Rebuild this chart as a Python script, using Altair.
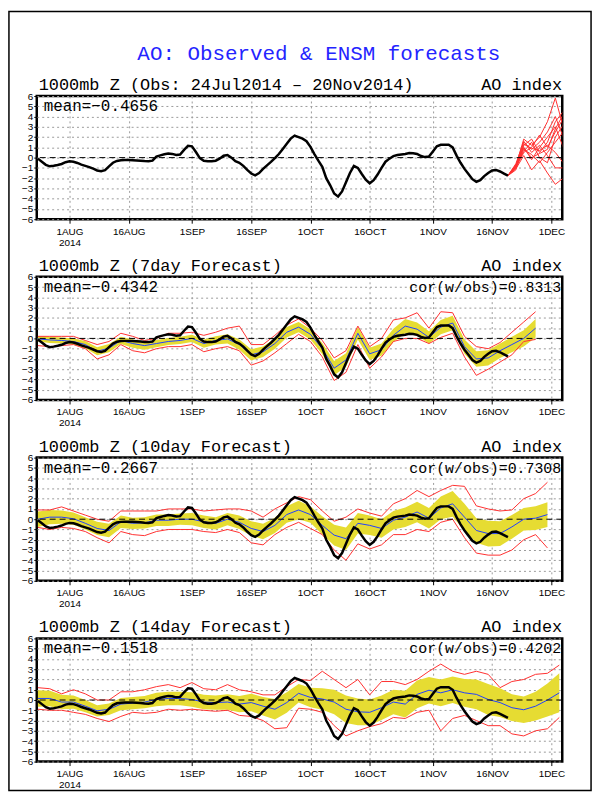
import altair as alt
import pandas as pd

# ---------------- data ----------------
# observed AO index, daily from 24 Jul 2014 to 20 Nov 2014
obs_values = [
    -0.10, -0.40, -0.70, -0.85, -0.80, -0.72, -0.62, -0.45,            # Jul 24-31
    -0.36, -0.40, -0.52, -0.68, -0.80, -0.92, -1.08, -1.25, -1.32, -1.22,
    -0.85, -0.50, -0.32, -0.26, -0.24, -0.24, -0.25, -0.27, -0.30, -0.34,
    -0.36, -0.30, 0.10, 0.22, 0.32, 0.40, 0.36, 0.26, 0.30, 0.75, 1.15,  # Aug
    1.10, 0.55, -0.05, -0.30, -0.36, -0.36, -0.30, -0.10, 0.18, 0.25,
    0.00, -0.35, -0.50, -0.80, -1.20, -1.55, -1.72, -1.50, -1.10, -0.75,
    -0.42, -0.05, 0.35, 0.85, 1.35, 1.85, 2.15, 2.00, 1.85, 1.60,        # Sep
    1.05, 0.35, -0.30, -0.90, -2.00, -2.70, -3.50, -3.80, -3.30, -2.40,
    -1.50, -0.80, -1.00, -1.60, -2.15, -2.50, -2.20, -1.65, -1.00, -0.40,
    -0.10, 0.15, 0.25, 0.30, 0.35, 0.45, 0.42, 0.35, 0.15, 0.05, 0.10,   # Oct
    0.60, 1.10, 1.25, 1.25, 1.25, 1.00, 0.20, -0.50, -1.10, -1.60,
    -2.10, -2.35, -2.20, -1.80, -1.50, -1.25, -1.20, -1.35, -1.55, -1.75,  # Nov 1-20
]

# ensemble forecast members of the top panel (every 2 days from 20 Nov)
member_dates = ["2014-11-20", "2014-11-22", "2014-11-24", "2014-11-26",
                "2014-11-28", "2014-11-30", "2014-12-02", "2014-12-04"]
members = {
    "m1": [-1.75, -0.8, 1.8, 1.2, 2.0, 3.5, 5.8, 3.0],
    "m2": [-1.75, -0.6, 1.5, 0.8, 1.5, 2.5, 4.0, 2.0],
    "m3": [-1.75, -0.9, 1.2, 1.8, 0.5, 1.5, 3.5, 4.5],
    "m4": [-1.75, -1.0, 0.5, 1.0, 2.2, 1.0, 2.5, 3.8],
    "m5": [-1.75, -0.7, 1.0, -0.2, 1.0, 2.0, 3.0, 1.0],
    "m6": [-1.75, -1.1, 0.2, -1.2, -0.3, -1.5, -2.6, -2.0],
    "m7": [-1.75, -0.9, 0.8, 0.3, -0.5, 0.5, 1.5, 2.5],
    "m8": [-1.75, -1.0, 1.6, 0.5, 1.2, 0.2, -1.0, -1.0],
    "m9": [-1.75, -0.8, 0.6, 1.5, 0.0, -0.5, 2.0, 3.2],
    "m10": [-1.75, -1.2, 1.3, 0.9, 0.7, 1.2, 0.5, -0.5],
    "m11": [-1.75, -0.7, 0.9, 0.0, 0.4, 0.8, 2.8, 4.2],
}

# verifying forecasts, every 3 days from 24 Jul: ensemble mean (blue),
# half-width of the yellow band, and the red min / max lines
mean7 = [-0.05, -0.15, -0.2, -0.3, -0.6, -1.25, -0.95, -0.2, -0.5, -0.7, -0.5,
         -0.3, -0.2, 0.0, -0.5, -0.2, -0.05, -0.6, -1.6, -1.3, -0.5, 0.6, 1.1,
         0.4, -1.0, -2.9, -2.1, 0.5, -1.5, -1.1, 0.3, 1.2, 0.9, 0.1, 1.1, 1.5,
         -0.8, -2.0, -1.9, -1.2, -0.6, 0.0, 1.0]
spread7 = [0.25, 0.3, 0.3, 0.3, 0.35, 0.4, 0.4, 0.35, 0.4, 0.4, 0.35, 0.35, 0.35,
           0.35, 0.4, 0.4, 0.45, 0.5, 0.55, 0.5, 0.5, 0.5, 0.5, 0.5, 0.55, 0.7,
           0.65, 0.6, 0.6, 0.6, 0.65, 0.7, 0.65, 0.6, 0.7, 0.7, 0.7, 0.75, 0.75,
           0.7, 0.75, 0.8, 0.9]
hi7 = [0.2, 0.2, 0.2, 0.2, -0.2, -0.6, -0.3, 0.5, 0.2, -0.2, 0.0, 0.5, 0.5, 0.6,
       0.3, 0.6, 1.0, 1.2, -0.6, -0.6, 0.3, 1.3, 1.9, 1.0, -0.2, -1.9, -1.2, 1.2,
       -0.8, 0.0, 1.8, 2.0, 2.5, 1.0, 2.6, 2.5, 0.2, -0.8, -1.0, -0.4, 0.6, 1.6, 2.6]
lo7 = [-0.7, -0.8, -0.7, -0.6, -1.0, -2.0, -1.6, -0.6, -1.2, -1.4, -1.0, -0.8,
       -0.8, -0.6, -1.3, -1.0, -0.8, -1.2, -2.6, -2.2, -1.4, -0.5, 0.4, -0.3,
       -1.8, -4.1, -3.3, -0.6, -2.9, -1.8, -0.3, 0.0, 0.0, -0.5, 0.1, 0.5, -1.8,
       -3.6, -3.0, -2.3, -1.6, -0.3, -0.1]

mean10 = [0.0, 0.2, 0.2, 0.05, -0.4, -0.9, -1.1, -0.25, -0.4, -0.35, -0.1, -0.1,
          0.0, 0.0, -0.25, -0.4, 0.0, -0.3, -0.9, -1.2, -0.6, 0.45, 0.9, 0.45,
          -0.6, -1.55, -1.9, -0.4, -0.6, -0.9, -0.1, 0.2, 0.7, 0.1, 1.1, 1.5, 0.2,
          -1.1, -1.4, -1.4, -0.75, 0.0, 0.1, 0.45]
spread10 = [0.75, 0.7, 0.65, 0.6, 0.6, 0.65, 0.65, 0.6, 0.55, 0.55, 0.55, 0.55,
            0.55, 0.6, 0.6, 0.6, 0.6, 0.65, 0.7, 0.75, 0.75, 0.8, 0.9, 0.8, 0.9,
            1.0, 1.1, 1.0, 0.95, 0.9, 0.9, 0.95, 1.0, 1.0, 1.1, 1.25, 1.3, 1.2,
            1.25, 1.2, 1.15, 1.1, 1.15, 1.2]
hi10 = [0.9, 0.9, 1.2, 0.8, 0.4, 0.0, -0.2, 0.8, 0.8, 0.8, 0.8, 1.0, 1.0, 1.0,
        0.8, 0.9, 1.0, 1.0, 0.8, 0.2, 1.0, 1.6, 2.2, 1.9, 0.8, -0.2, 0.2, 1.0,
        0.6, 0.3, 1.5, 2.0, 2.8, 2.2, 2.8, 3.3, 3.2, 1.3, 1.0, 0.8, 0.9, 2.0,
        2.5, 3.6]
lo10 = [-0.8, -1.0, -0.8, -0.9, -1.2, -1.8, -2.3, -1.2, -1.5, -1.6, -1.2, -1.0,
        -1.0, -1.0, -1.2, -1.3, -1.0, -1.3, -2.3, -2.5, -1.5, -0.8, -0.3, -0.9,
        -1.5, -3.0, -4.0, -2.4, -2.9, -2.5, -1.5, -1.5, -1.0, -1.2, -0.3, 0.0,
        -1.8, -3.3, -3.5, -3.5, -3.0, -2.0, -1.5, -2.8]

mean14 = [0.15, 0.15, -0.2, -0.2, -0.6, -1.05, -0.9, -0.4, -0.3, -0.2, 0.05, 0.15,
          0.15, 0.05, -0.2, -0.25, -0.2, -0.4, -0.25, -0.6, -0.9, -0.25, 0.65,
          0.25, 0.1, -0.2, -0.9, -1.15, -1.2, -0.75, -0.2, -0.4, 0.55, 0.95, 0.7,
          1.0, 0.7, 0.55, 0.05, -0.25, -0.75, -0.95, -0.6, 0.0, 0.7]
spread14 = [0.8, 0.75, 0.7, 0.65, 0.6, 0.55, 0.55, 0.6, 0.6, 0.6, 0.65, 0.65, 0.65,
            0.7, 0.7, 0.7, 0.75, 0.8, 0.85, 0.9, 1.0, 1.0, 0.9, 0.95, 1.05, 1.2,
            1.35, 1.3, 1.25, 1.2, 1.2, 1.3, 1.35, 1.3, 1.3, 1.3, 1.35, 1.45, 1.5,
            1.4, 1.3, 1.3, 1.4, 1.6, 1.9]
hi14 = [1.2, 1.1, 0.6, 1.0, 0.6, 0.0, 0.0, 0.8, 0.8, 1.0, 1.3, 1.5, 1.2, 1.7, 1.1,
        1.0, 1.5, 1.0, 0.8, 0.5, 0.5, 1.3, 2.0, 1.9, 2.8, 2.0, 1.2, 2.0, 0.5, 1.8,
        1.8, 1.5, 2.0, 2.8, 3.5, 2.8, 2.5, 2.8, 2.5, 1.2, 1.8, 2.0, 2.5, 2.6, 3.4]
lo14 = [-0.9, -1.0, -1.0, -1.2, -1.4, -1.8, -2.1, -1.6, -1.2, -1.3, -1.2, -0.9,
        -1.0, -0.9, -1.0, -1.1, -1.0, -1.5, -1.6, -2.0, -2.8, -2.7, -0.8, -0.9,
        -1.2, -2.5, -3.5, -3.0, -2.6, -2.3, -1.7, -1.8, -1.2, -1.0, -3.0, -1.8,
        -1.5, -2.0, -2.5, -2.5, -3.3, -3.5, -3.0, -2.8, -1.7]

panel_titles = ["1000mb Z (Obs: 24Jul2014 – 20Nov2014)",
                "1000mb Z (7day Forecast)",
                "1000mb Z (10day Forecast)",
                "1000mb Z (14day Forecast)"]
mean_labels = ["mean=−0.4656", "mean=−0.4342", "mean=−0.2667", "mean=−0.1518"]
cor_labels = ["", "cor(w/obs)=0.8313", "cor(w/obs)=0.7308", "cor(w/obs)=0.4202"]
main_title = "AO: Observed & ENSM forecasts"
index_label = "AO index"
y_ticks = [-6, -5, -4, -3, -2, -1, 0, 1, 2, 3, 4, 5, 6]
x_tick_days = [(8, 1), (8, 16), (9, 1), (9, 16), (10, 1), (10, 16), (11, 1), (11, 16), (12, 1)]

# ---------------- tables ----------------
obs_dates = pd.date_range("2014-07-24", periods=len(obs_values), freq="D").strftime("%Y-%m-%d")
obs_df = pd.DataFrame({"date": obs_dates, "v": obs_values})

mem_rows = []
for name, vals in members.items():
    for d, v in zip(member_dates, vals):
        mem_rows.append({"date": d, "v": v, "m": name})
mem_df = pd.DataFrame(mem_rows)


def fc_tables(mean, spread, hi, lo):
    dates = pd.date_range("2014-07-24", periods=len(mean), freq="3D").strftime("%Y-%m-%d")
    band = pd.DataFrame({"date": dates, "v": mean,
                         "lo": [m - s for m, s in zip(mean, spread)],
                         "hi": [m + s for m, s in zip(mean, spread)]})
    red = pd.concat([pd.DataFrame({"date": dates, "v": hi, "w": "max"}),
                     pd.DataFrame({"date": dates, "v": lo, "w": "min"})])
    return band, red


# ---------------- styling ----------------
W, H = 529, 124
YELLOW = "#e6dc32"
RED = "#ff3030"
BLUE = "#2040ff"
TFONT = "Liberation Mono"

x_domain = [alt.DateTime(year=2014, month=7, date=23, hours=17, utc=True),
            alt.DateTime(year=2014, month=12, date=3, hours=18, utc=True)]
x_ticks = [alt.DateTime(year=2014, month=m, date=d, utc=True) for m, d in x_tick_days]
label_expr = ("utcmonth(datum.value) == 7 && utcdate(datum.value) == 1 ? ['1AUG', '2014'] : "
              "utcdate(datum.value) + upper(utcFormat(datum.value, '%b'))")
X = alt.X("date:T", title=None,
          scale=alt.Scale(type="utc", domain=x_domain),
          axis=alt.Axis(values=x_ticks, labelExpr=label_expr, tickSize=4,
                        labelPadding=3, labelLineHeight=11, labelBaseline="top",
                        labelFlush=False, labelOverlap=False))
yscale = alt.Scale(domain=[-6, 6], nice=False, zero=False)
yaxis = alt.Axis(values=y_ticks, tickSize=3, labelPadding=1, labelOverlap=False,
                 labelFontSize=10, labelFlush=False)


def yenc(field):
    return alt.Y(field, title=None, scale=yscale, axis=yaxis)


def text_layer(txt, x, y, align, size, color="black"):
    return alt.Chart(pd.DataFrame({"t": [txt]})).mark_text(
        align=align, baseline="alphabetic", font=TFONT, fontSize=size, color=color
    ).encode(text="t:N", x=alt.value(x), y=alt.value(y))


zero_rule = alt.Chart(pd.DataFrame({"z": [0]})).mark_rule(
    color="black", strokeWidth=1, strokeDash=[6, 4]).encode(y=yenc("z:Q"))
obs_line = alt.Chart(obs_df).mark_line(color="black", strokeWidth=2.5).encode(x=X, y=yenc("v:Q"))


def panel(i, fc=None, extra=None):
    layers = []
    if fc is not None:
        band, red = fc
        layers.append(alt.Chart(band).mark_area(color=YELLOW, opacity=1).encode(
            x=X, y=yenc("lo:Q"), y2="hi:Q"))
        layers.append(alt.Chart(red).mark_line(color=RED, strokeWidth=1).encode(
            x=X, y=yenc("v:Q"), detail="w:N"))
        layers.append(alt.Chart(band).mark_line(color=BLUE, strokeWidth=1).encode(
            x=X, y=yenc("v:Q")))
    if extra is not None:
        layers.append(extra)
    layers.append(zero_rule)
    layers.append(obs_line)
    layers.append(text_layer(panel_titles[i], 2, -6, "left", 17))
    layers.append(text_layer(index_label, 529, -6, "right", 17))
    layers.append(text_layer(mean_labels[i], 7, 15, "left", 16))
    if cor_labels[i]:
        layers.append(text_layer(cor_labels[i], 528, 15, "right", 15))
    return alt.layer(*layers).properties(width=W, height=H)


members_layer = alt.Chart(mem_df).mark_line(color=RED, strokeWidth=1, clip=True).encode(
    x=X, y=yenc("v:Q"), detail="m:N")

frame = alt.Chart(pd.DataFrame({"f": [0]})).mark_rect(
    fill="transparent", stroke="black", strokeWidth=1.5).encode(
    x=alt.value(-28), x2=alt.value(558), y=alt.value(-85), y2=alt.value(699))

p1 = alt.layer(panel(0, extra=members_layer),
               text_layer(main_title, 284, -36, "center", 21, "#2424ff"),
               frame)
p2 = panel(1, fc_tables(mean7, spread7, hi7, lo7))
p3 = panel(2, fc_tables(mean10, spread10, hi10, lo10))
p4 = panel(3, fc_tables(mean14, spread14, hi14, lo14))

chart = alt.vconcat(p1, p2, p3, p4, spacing=58, bounds="flush").properties(
    padding={"left": 7, "top": 7, "right": 7, "bottom": 5},
    background="white",
).configure_view(stroke="black", strokeWidth=2.5).configure_axis(
    grid=True, gridColor="#9a9a9a", gridDash=[2, 3], gridWidth=1,
    domain=False, tickColor="black", labelColor="black",
    labelFont="Liberation Sans", labelFontSize=10,
)

chart.save("out.html", embed_options={"renderer": "svg", "actions": False})
